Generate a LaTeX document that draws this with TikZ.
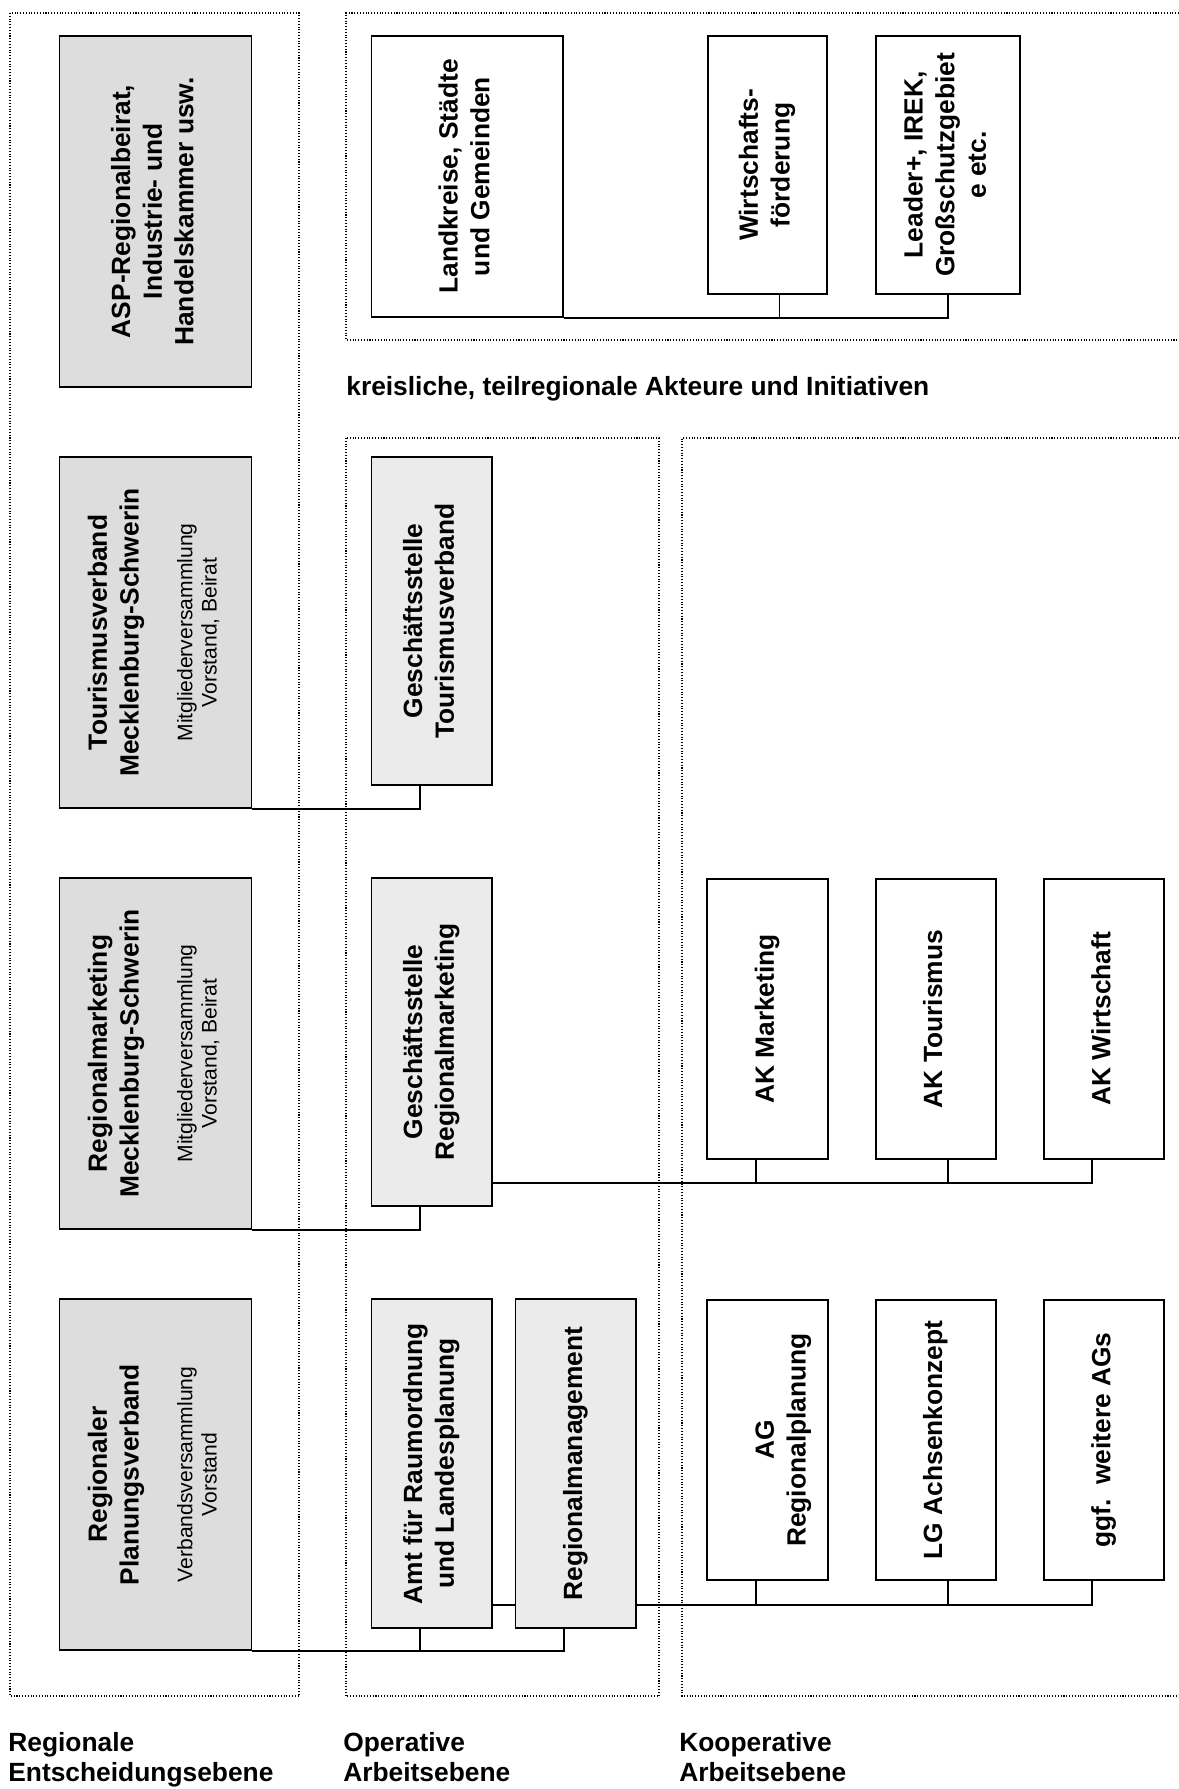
\documentclass[tikz,border=0pt]{standalone}
\usepackage{graphicx}
\usepackage{fontspec}
\setmainfont{Liberation Sans}
\definecolor{boxdark}{gray}{0.867}
\definecolor{boxlight}{gray}{0.92}
\newcommand\pxu{0.02cm}
\newcommand\vlabel[1]{\rotatebox{90}{\begin{tabular}{@{}c@{}}#1\end{tabular}}}
\newcommand\subline{\mdseries\fontsize{12}{13.8}\selectfont}
\newcommand\tierlines[1]{\begin{tabular}[t]{@{}l@{}}#1\end{tabular}}

\begin{document}
\begin{tikzpicture}[x=0.02cm,y=-0.02cm,
  frame/.style={densely dotted,line width=0.6pt},
  box/.style={draw,line width=1.1pt,anchor=north west,inner sep=0pt,
    font=\fontsize{15}{18}\selectfont\bfseries},
  darkbox/.style={box,fill=boxdark,minimum width=192*\pxu,minimum height=351*\pxu},
  lightbox/.style={box,fill=boxlight,minimum width=120.5*\pxu,minimum height=328*\pxu},
  akbox/.style={box,fill=white,minimum width=120.5*\pxu,minimum height=280*\pxu},
  conn/.style={line width=1.1pt},
  tierlabel/.style={anchor=base west,inner sep=0pt,font=\fontsize{15}{17.3}\selectfont\bfseries}]
  \path[use as bounding box,fill=white] (0,0) rectangle (1179,1789);

  \draw[frame] (10,13) rectangle (299,1696);
  \draw[frame] (1179,13) -- (346,13) -- (346,340) -- (1179,340);
  \draw[frame] (346,438) rectangle (659,1696);
  \draw[frame] (1179,438) -- (682,438) -- (682,1696) -- (1179,1696);

  \node[darkbox] (asp) at (58.5,35) {\vlabel{ASP-Regionalbeirat,\\Industrie- und\\Handelskammer usw.}};
  \node[darkbox] (tv) at (58.5,456) {\vlabel{Tourismusverband\\Mecklenburg-Schwerin\\[12.6pt]\subline Mitgliederversammlung\\[-4.2pt]\subline Vorstand, Beirat}};
  \node[darkbox] (rm) at (58.5,877) {\vlabel{Regionalmarketing\\Mecklenburg-Schwerin\\[12.6pt]\subline Mitgliederversammlung\\[-4.2pt]\subline Vorstand, Beirat}};
  \node[darkbox] (rpv) at (58.5,1298) {\vlabel{Regionaler\\Planungsverband\\[12.6pt]\subline Verbandsversammlung\\[-4.2pt]\subline Vorstand}};

  \node[box,fill=white,minimum width=191.5*\pxu,minimum height=281*\pxu] (lk) at (370.5,35) {\vlabel{Landkreise, Städte\\und Gemeinden}};
  \node[box,fill=white,minimum width=119*\pxu,minimum height=258*\pxu] (wf) at (707,35) {\vlabel{Wirtschafts-\\förderung}};
  \node[box,fill=white,minimum width=144*\pxu,minimum height=258*\pxu] (ld) at (875,35) {\vlabel{Leader+, IREK,\\Großschutzgebiet\\e etc.}};

  \node[lightbox] (gst) at (370.5,456) {\vlabel{Geschäftsstelle\\Tourismusverband}};
  \node[lightbox] (gsr) at (370.5,877) {\vlabel{Geschäftsstelle\\Regionalmarketing}};
  \node[lightbox,minimum height=329*\pxu] (amt) at (370.5,1298) {\vlabel{Amt für Raumordnung\\und Landesplanung}};
  \node[lightbox,minimum height=329*\pxu] (rmg) at (514.5,1298) {\vlabel{Regionalmanagement}};

  \foreach \n/\t [count=\i] in {akm/AK Marketing,akt/AK Tourismus,akw/AK Wirtschaft}
    \node[akbox] (\n) at (706.4+168.2*\i-168.2,878) {\vlabel{\t}};
  \foreach \n/\t [count=\i] in {agr/{\\AG\\Regionalplanung},lga/LG Achsenkonzept,gga/{ggf.\ \ weitere AGs}}
    \node[akbox] (\n) at (706.4+168.2*\i-168.2,1299) {\vlabel{\t}};

  \draw[conn] (lk.south east) -| (ld.south);
  \draw[conn] ([xshift=12*\pxu]wf.south) |- (lk.south east);

  \draw[conn] (tv.south east) -| ([xshift=-12*\pxu]gst.south);
  \draw[conn] (rm.south east) -| ([xshift=-12*\pxu]gsr.south);
  \draw[conn] (rpv.south east) -| ([xshift=-12*\pxu]rmg.south);
  \draw[conn] ([xshift=-12*\pxu]amt.south) |- (rpv.south east);
  \draw[conn] ([yshift=24*\pxu]amt.south east) -- ([yshift=24*\pxu]rmg.south west);

  \coordinate (akbus) at ([yshift=23.5*\pxu]gsr.south east);
  \draw[conn] (akbus) -| ([xshift=-12*\pxu]akw.south);
  \draw[conn] ([xshift=-12*\pxu]akm.south) |- (akbus);
  \draw[conn] ([xshift=12*\pxu]akt.south) |- (akbus);

  \coordinate (agbus) at ([yshift=24*\pxu]rmg.south east);
  \draw[conn] (agbus) -| ([xshift=-12*\pxu]gga.south);
  \draw[conn] ([xshift=-12*\pxu]agr.south) |- (agbus);
  \draw[conn] ([xshift=12*\pxu]lga.south) |- (agbus);

  \node[tierlabel] (kreis) at (346,395) {kreisliche, teilregionale Akteure und Initiativen};
  \node[tierlabel] (ent) at (8,1751) {\tierlines{Regionale\\Entscheidungsebene}};
  \node[tierlabel] (ope) at (343,1751) {\tierlines{Operative\\Arbeitsebene}};
  \node[tierlabel] (koop) at (679,1751) {\tierlines{Kooperative\\Arbeitsebene}};
\end{tikzpicture}
\end{document}
